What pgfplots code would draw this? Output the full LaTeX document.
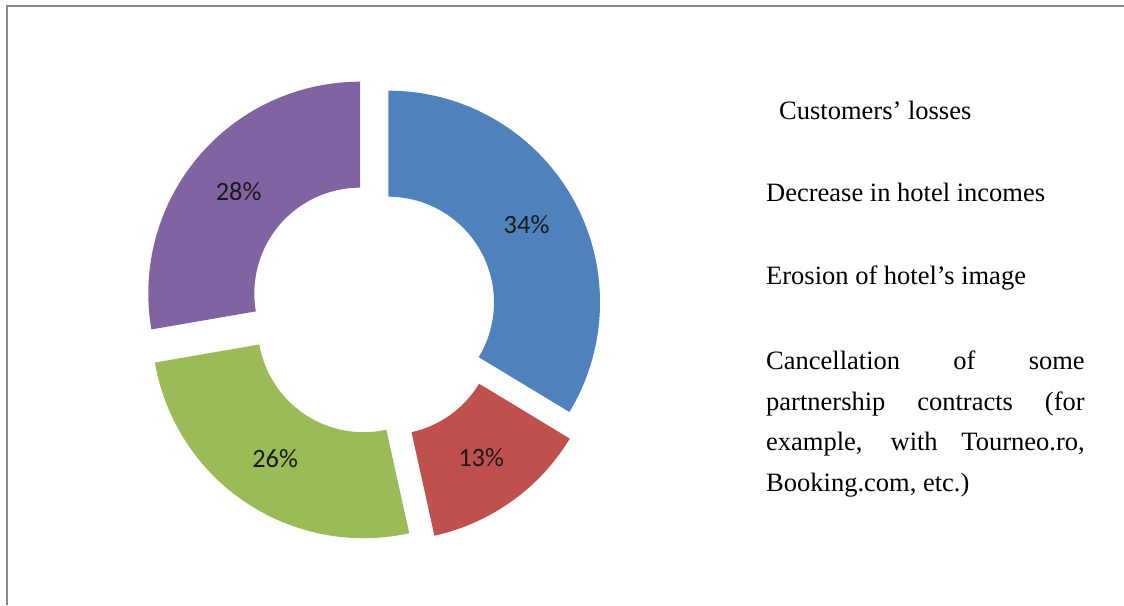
\documentclass[border=0pt]{standalone}
\usepackage{pgfplots}
\pgfplotsset{compat=1.18}
\usepackage{pgfplotstable}
\usepackage{fontspec}
\setmainfont{Liberation Serif}
\newfontfamily\calibri{Carlito}

\definecolor{sBlue}{HTML}{4F81BD}
\definecolor{sRed}{HTML}{C0504D}
\definecolor{sGreen}{HTML}{9BBB59}
\definecolor{sPurple}{HTML}{8064A2}
\definecolor{frameGray}{HTML}{8A8A8A}

% value, explosion offset of the slice (px), colour
\pgfplotstableread{
value dx dy color
34 13.3 10.2 sBlue
13 13.7 -16.4 sRed
26 -11.5 -13.9 sGreen
28 -15 19.2 sPurple
}\slices

\def\cx{375}\def\cy{292.4}\def\Ro{211.7}\def\Ri{105.7}\def\total{101}
\def\acc{90}
\pgfplotsforeachungrouped \i in {0,1,2,3}{%
  \pgfplotstablegetelem{\i}{value}\of\slices\let\v\pgfplotsretval
  \pgfplotstablegetelem{\i}{dx}\of\slices\let\ddx\pgfplotsretval
  \pgfplotstablegetelem{\i}{dy}\of\slices\let\ddy\pgfplotsretval
  \pgfplotstablegetelem{\i}{color}\of\slices\let\col\pgfplotsretval
  \pgfmathsetmacro\aE{\acc-360*\v/\total}%
  \pgfmathsetmacro\aM{(\acc+\aE)/2}%
  \pgfmathsetmacro\px{\cx+\ddx}%
  \pgfmathsetmacro\py{\cy+\ddy}%
  \pgfmathsetmacro\lx{\px+(\Ro+\Ri)/2*cos(\aM)}%
  \pgfmathsetmacro\ly{\py+(\Ro+\Ri)/2*sin(\aM)}%
  \pgfmathsetmacro\dR{\Ro-\Ri}%
  \expandafter\xdef\csname slice\i\endcsname{%
    \noexpand\fill[\col] (axis cs:\px,\py) ++(\acc:\Ro pt) arc[start angle=\acc, end angle=\aE, radius=\Ro pt] -- ++(\aE+180:\dR pt) arc[start angle=\aE, end angle=\acc, radius=\Ri pt] -- cycle;
    \noexpand\node[font=\noexpand\calibri\noexpand\fontsize{26.4}{30}\noexpand\selectfont, text=black!90] at (axis cs:\lx,\ly) {\v\noexpand\%};
  }%
  \xdef\acc{\aE}%
}

\begin{document}
\begin{tikzpicture}
\begin{axis}[x=1pt, y=1pt, xmin=0, xmax=1124, ymin=0, ymax=605, hide axis, clip=false]
\coordinate (BL) at (axis cs:0,0);
\coordinate (TR) at (axis cs:1124,605);
\draw[frameGray, line width=2pt] (axis cs:7,0) -- (axis cs:7,598.5) -- (axis cs:1124,598.5);
\pgfplotsinvokeforeach{0,...,3}{\csname slice#1\endcsname}
\begin{scope}[every node/.style={anchor=base west, inner sep=0pt, font=\fontsize{26.5}{30}\selectfont}]
\node at (axis cs:779,485.7) {Customers’ losses};
\node at (axis cs:766,403.3) {Decrease in hotel incomes};
\node at (axis cs:766,320) {Erosion of hotel’s image};
\node at (axis cs:766,235) {\makebox[318.5pt][s]{Cancellation of some}};
\node at (axis cs:766,194.5) {\makebox[318.5pt][s]{partnership contracts (for}};
\node at (axis cs:766,154) {\makebox[318.5pt][s]{example, with Tourneo.ro,}};
\node at (axis cs:766,113.5) {Booking.com, etc.)};
\end{scope}
\end{axis}
\pgfresetboundingbox
\path[use as bounding box] (BL) rectangle (TR);
\end{tikzpicture}
\end{document}
